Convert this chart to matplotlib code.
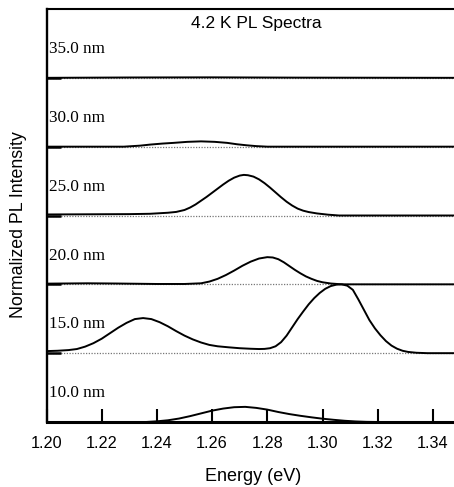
import matplotlib
matplotlib.use("Agg")
import matplotlib.pyplot as plt
from matplotlib.transforms import blended_transform_factory

# ---------------- data ----------------
thickness_labels = ["10.0 nm", "15.0 nm", "20.0 nm", "25.0 nm", "30.0 nm", "35.0 nm"]
offsets = [0, 1, 2, 3, 4, 5]

e_10 = [1.200, 1.236, 1.240, 1.244, 1.248, 1.252, 1.256, 1.260, 1.264, 1.268, 1.272,
        1.276, 1.280, 1.284, 1.288, 1.292, 1.296, 1.300, 1.304, 1.308, 1.312, 1.316,
        1.320, 1.350]
i_10 = [0.0, 0.0, 0.01, 0.025, 0.05, 0.085, 0.125, 0.165, 0.195, 0.215, 0.22,
        0.205, 0.18, 0.145, 0.115, 0.09, 0.068, 0.048, 0.032, 0.018, 0.008, 0.002,
        0.0, 0.0]

e_15 = [1.200, 1.204, 1.208, 1.211, 1.214, 1.217, 1.220, 1.223, 1.226, 1.229, 1.232,
        1.235, 1.238, 1.241, 1.244, 1.247, 1.250, 1.253, 1.256, 1.259, 1.262, 1.266,
        1.270, 1.274, 1.277, 1.279, 1.281, 1.283, 1.285, 1.287, 1.289, 1.291, 1.293,
        1.295, 1.297, 1.299, 1.301, 1.303, 1.305, 1.307, 1.309, 1.311, 1.313, 1.315,
        1.317, 1.319, 1.321, 1.323, 1.325, 1.327, 1.329, 1.331, 1.334, 1.338, 1.350]
i_15 = [0.03, 0.035, 0.045, 0.06, 0.095, 0.145, 0.21, 0.29, 0.37, 0.44, 0.495,
        0.51, 0.495, 0.45, 0.39, 0.32, 0.255, 0.20, 0.155, 0.12, 0.10, 0.085,
        0.072, 0.064, 0.06, 0.062, 0.072, 0.10, 0.16, 0.255, 0.375, 0.495, 0.605,
        0.71, 0.80, 0.875, 0.935, 0.975, 0.995, 1.0, 0.98, 0.92, 0.78, 0.63,
        0.48, 0.36, 0.26, 0.175, 0.11, 0.065, 0.035, 0.018, 0.006, 0.0, 0.0]

e_20 = [1.200, 1.215, 1.225, 1.240, 1.250, 1.256, 1.259, 1.262, 1.265, 1.268, 1.271,
        1.274, 1.277, 1.280, 1.282, 1.284, 1.286, 1.288, 1.290, 1.292, 1.294, 1.296,
        1.298, 1.300, 1.303, 1.307, 1.350]
i_20 = [0.01, 0.015, 0.012, 0.005, 0.005, 0.015, 0.04, 0.08, 0.135, 0.20, 0.27,
        0.33, 0.375, 0.395, 0.39, 0.365, 0.32, 0.265, 0.21, 0.16, 0.115, 0.08,
        0.05, 0.03, 0.012, 0.0, 0.0]

e_25 = [1.200, 1.230, 1.2375, 1.244, 1.247, 1.250, 1.252, 1.254, 1.256, 1.258, 1.260,
        1.262, 1.264, 1.266, 1.268, 1.270, 1.2715, 1.273, 1.275, 1.277, 1.279, 1.281,
        1.283, 1.285, 1.287, 1.289, 1.291, 1.293, 1.295, 1.298, 1.302, 1.306, 1.350]
i_25 = [0.015, 0.02, 0.025, 0.04, 0.052, 0.08, 0.115, 0.16, 0.215, 0.27, 0.33,
        0.39, 0.45, 0.505, 0.55, 0.58, 0.59, 0.585, 0.565, 0.525, 0.47, 0.405,
        0.335, 0.265, 0.20, 0.145, 0.10, 0.07, 0.05, 0.03, 0.012, 0.0, 0.0]

e_30 = [1.200, 1.228, 1.234, 1.2375, 1.242, 1.246, 1.251, 1.256, 1.261, 1.2655, 1.269,
        1.2725, 1.276, 1.280, 1.350]
i_30 = [0.0, 0.0, 0.015, 0.03, 0.045, 0.055, 0.07, 0.077, 0.07, 0.055, 0.035,
        0.02, 0.008, 0.0, 0.0]

e_35 = [1.200, 1.230, 1.260, 1.290, 1.350]
i_35 = [0.0, 0.005, 0.007, 0.003, 0.0]

energies = [e_10, e_15, e_20, e_25, e_30, e_35]
intensities = [i_10, i_15, i_20, i_25, i_30, i_35]

xticks = [1.20, 1.22, 1.24, 1.26, 1.28, 1.30, 1.32, 1.34]
xticklabels = ["1.20", "1.22", "1.24", "1.26", "1.28", "1.30", "1.32", "1.34"]

title = "4.2 K PL Spectra"
xlabel = "Energy (eV)"
ylabel = "Normalized PL Intensity"

# ---------------- figure ----------------
W, H = 454, 487
fig = plt.figure(figsize=(W / 100, H / 100), dpi=100)
left_px, right_px, top_px, bot_px = 46.5, 460.5, 9, 422
ax = fig.add_axes([left_px / W, (H - bot_px) / H, (right_px - left_px) / W, (bot_px - top_px) / H])

sans = "Liberation Sans"
serif = "Liberation Serif"

for off in offsets[1:]:
    ax.axhline(off, color="#777777", lw=0.9, ls=(0, (1, 1.2)), zorder=1)

for e, it, off in zip(energies, intensities, offsets):
    ax.plot(e, [v + off for v in it], color="black", lw=1.4, zorder=2,
            solid_joinstyle="round", solid_capstyle="round")

trans = blended_transform_factory(ax.transAxes, ax.transData)
for lab, off in zip(thickness_labels, offsets):
    ax.text(0.005, off + 0.36, lab, transform=trans, family=serif, fontsize=12.3,
            va="baseline", ha="left", zorder=5,
            bbox=dict(facecolor="white", edgecolor="none", pad=1.2))

ax.text(1.2761, 5.72, title, family=sans, fontsize=12.5, ha="center", va="baseline")

ax.set_xlim(1.20, 1.35)
ax.set_ylim(0, 6)
ax.set_xticks(xticks)
ax.set_xticklabels(xticklabels, family=sans, fontsize=11.7)
ax.set_yticks(offsets)
ax.set_yticklabels([])
ax.tick_params(axis="x", direction="in", length=9.5, width=1.5, pad=10)
ax.tick_params(axis="y", direction="in", length=10, width=1.8)

ax.set_xlabel(xlabel, family=sans, fontsize=13, labelpad=12)
ax.set_ylabel(ylabel, family=sans, fontsize=12.8)
ax.yaxis.set_label_coords(-0.046, 0.477)

ax.spines["left"].set_linewidth(1.7)
ax.spines["bottom"].set_linewidth(2.2)
ax.spines["top"].set_linewidth(1.5)
ax.spines["right"].set_visible(False)
for sp in ax.spines.values():
    sp.set_zorder(6)

fig.savefig("out.png", dpi=100)
